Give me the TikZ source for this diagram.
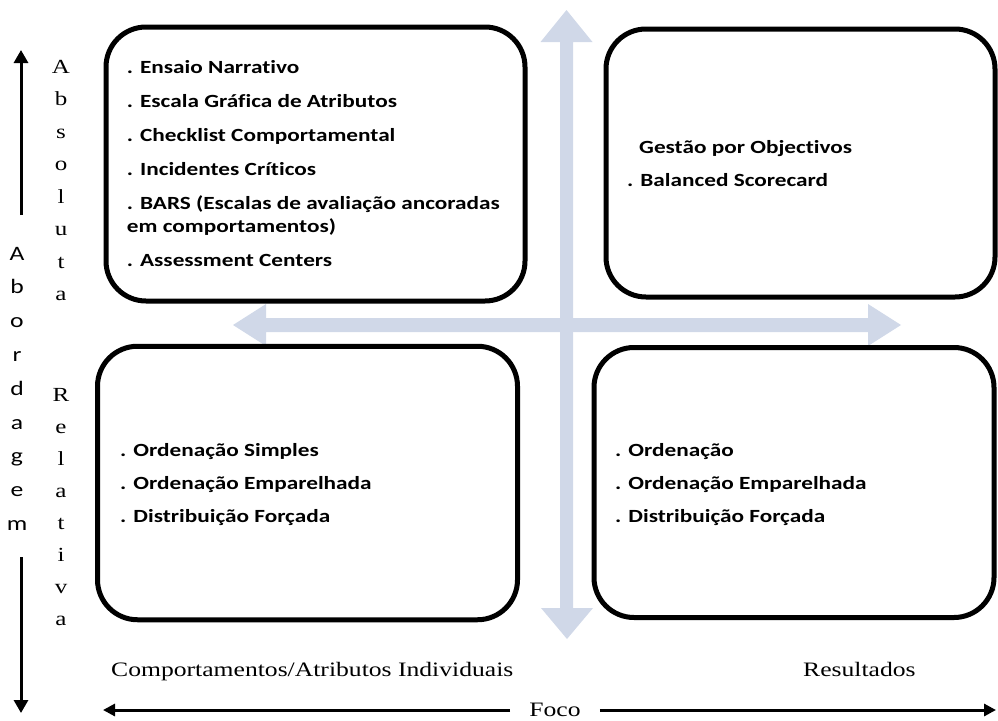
\documentclass[tikz,border=0pt]{standalone}
\usepackage{fontspec}
\usetikzlibrary{arrows.meta}
% fonts, widened to the proportions of the layout
\newfontfamily\itemfont{Carlito}[FakeStretch=1.25, Ligatures={NoCommon,NoContextual}]
\newfontfamily\serifx{Liberation Serif}[FakeStretch=1.25]
\newfontfamily\sansx{Carlito}[FakeStretch=1.25, Ligatures={NoCommon,NoContextual}]
\definecolor{axisblue}{RGB}{208,216,232}
\begin{document}
\begin{tikzpicture}[x=1pt,y=-1pt,
  quad/.style={draw=black, line width=5pt, rounded corners=40pt, inner sep=0pt},
  item/.style={anchor=base west, inner sep=0pt, font=\itemfont\bfseries\fontsize{18.6}{22}\selectfont},
  sideserif/.style={anchor=base, inner sep=0pt, font=\serifx\fontsize{20}{24}\selectfont},
  sidesans/.style={anchor=base, inner sep=0pt, font=\sansx\fontsize{20.5}{24}\selectfont},
  foot/.style={anchor=base west, inner sep=0pt, font=\serifx\fontsize{20.5}{24}\selectfont},
  blackarrow/.style={line width=3pt, -{Triangle[length=13pt,width=14pt]}},
  footarrow/.style={line width=3pt, -{Triangle[length=12pt,width=12pt]}},
  axis/.style={fill=axisblue, draw=none}]
\useasboundingbox (0,0) rectangle (998,720);

% light cross of axes
\fill[axis] (560,42) -- (540.5,42) -- (566.5,10) -- (592.5,42) -- (573,42)
  -- (573,608) -- (593,608) -- (567,639) -- (541,608) -- (560,608) -- cycle;
\fill[axis] (266,318) -- (266,304) -- (233,325) -- (266,346) -- (266,332)
  -- (868,332) -- (868,346) -- (901,325) -- (868,304) -- (868,318) -- cycle;

% four quadrants
\node[quad, minimum width=419pt, minimum height=274pt] (tl) at (315.5,164) {};
\node[quad, minimum width=389pt, minimum height=268pt] (tr) at (800.5,163) {};
\node[quad, minimum width=420pt, minimum height=273.5pt] (bl) at (307.5,483) {};
\node[quad, minimum width=400pt, minimum height=270pt] (br) at (794,482.5) {};

% top left items
\node[item] (tl1) at (126.7,73.3) {. Ensaio Narrativo};
\node[item] (tl2) at (126.7,107) {. Escala Gráfica de Atributos};
\node[item] (tl3) at (126.7,141.7) {. Checklist Comportamental};
\node[item] (tl4) at (126.7,175) {. Incidentes Críticos};
\node[item] (tl5) at (126.7,209) {. BARS (Escalas de avaliação ancoradas};
\node[item] (tl5b) at (126.7,232.7) {em comportamentos)};
\node[item] (tl6) at (126.7,266.7) {. Assessment Centers};

% top right items
\node[item] (tr1) at (639,153) {Gestão por Objectivos};
\node[item] (tr2) at (627,186.7) {. Balanced Scorecard};

% bottom left items
\node[item] (bl1) at (120,456) {. Ordenação Simples};
\node[item] (bl2) at (120,489) {. Ordenação Emparelhada};
\node[item] (bl3) at (120,522.7) {. Distribuição Forçada};

% bottom right items
\node[item] (br1) at (615,456) {. Ordenação};
\node[item] (br2) at (615,489) {. Ordenação Emparelhada};
\node[item] (br3) at (615,522.7) {. Distribuição Forçada};

% vertical axis title, one letter per line
\foreach \ch [count=\i from 0] in {A,b,o,r,d,a,g,e,m}
  \node[sidesans] (ab\i) at (17,260+33.8*\i) {\ch};
\foreach \ch [count=\i from 0] in {A,b,s,o,l,u,t,a}
  \node[sideserif] (abs\i) at (61,73.3+32.5*\i) {\ch};
\foreach \ch [count=\i from 0] in {R,e,l,a,t,i,v,a}
  \node[sideserif] (rel\i) at (61,401.7+31.9*\i) {\ch};

% vertical arrows on the left
\coordinate (upfrom) at (21,215);
\coordinate (upto) at (21,50);
\coordinate (downfrom) at (21,557);
\coordinate (downto) at (21,713);
\draw[blackarrow] (upfrom) -- (upto);
\draw[blackarrow] (downfrom) -- (downto);

% horizontal axis title
\node[foot] (comp) at (111,676.7) {Comportamentos/Atributos Individuais};
\node[foot] (res) at (803,676.7) {Resultados};
\node[anchor=base, inner xsep=19pt, inner ysep=0pt, font=\serifx\fontsize{20.5}{24}\selectfont] (foco) at (555,716) {Foco};
\coordinate (footleft) at (103,710);
\coordinate (footright) at (996,710);
\draw[footarrow] (foco.west |- footleft) -- (footleft);
\draw[footarrow] (foco.east |- footright) -- (footright);
\end{tikzpicture}
\end{document}
